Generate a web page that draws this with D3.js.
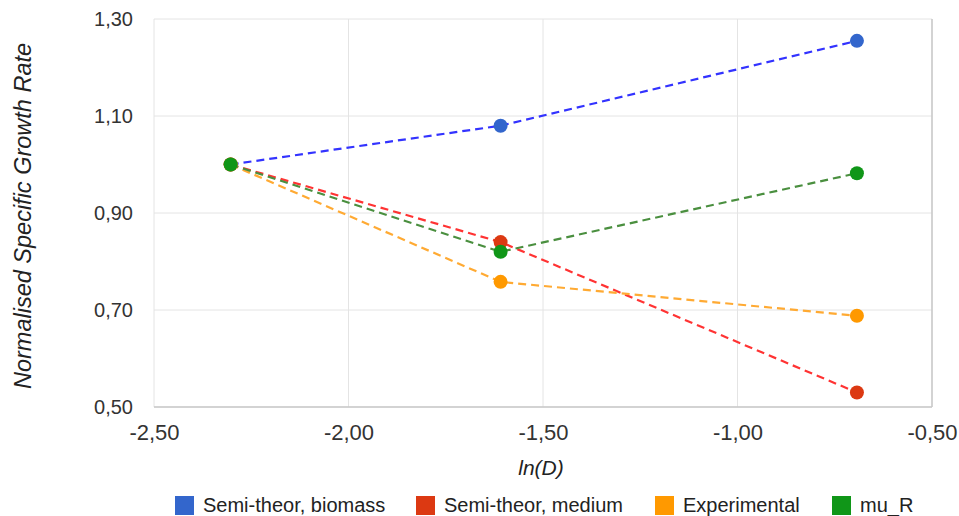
<!DOCTYPE html>
<html>
<head>
<meta charset="utf-8">
<script src="https://cdn.jsdelivr.net/npm/d3@7"></script>
<style>
  body { margin: 0; background: #fff; }
  text { font-family: "Liberation Sans", Arial, sans-serif; }
</style>
</head>
<body>
<svg id="chart" width="959" height="516"></svg>
<script>
// ln(D) values
const xValues = [-2.303, -1.609, -0.693];
const seriesNames = ["Semi-theor, biomass", "Semi-theor, medium", "Experimental", "mu_R"];
const biomass = [1.00, 1.08, 1.255];
const medium = [1.00, 0.84, 0.53];
const experimental = [1.00, 0.758, 0.688];
const muR = [1.00, 0.82, 0.982];
const xTicks = [-2.5, -2.0, -1.5, -1.0, -0.5];
const yTicks = [0.5, 0.7, 0.9, 1.1, 1.3];

const markerColors = ["#3366cc", "#dc3912", "#ff9900", "#109618"];
const lineColors = ["#3333ff", "#ff3333", "#ffaa33", "#4a8f3f"];

const margin = { top: 19, right: 27, bottom: 109, left: 154 },
    width = 959 - margin.left - margin.right,
    height = 516 - margin.top - margin.bottom;

const svg = d3.select("#chart");
const g = svg.append("g").attr("transform", `translate(${margin.left},${margin.top})`);

const x = d3.scaleLinear().domain([-2.5, -0.5]).range([0, width]);
const y = d3.scaleLinear().domain([0.5, 1.3]).range([height, 0]);

const fmt = d => d3.format(".2f")(d).replace(".", ",").replace("−", "-");

// gridlines
g.selectAll(".vgrid").data(xTicks).join("line").attr("class", "vgrid")
    .attr("x1", d => x(d)).attr("x2", d => x(d))
    .attr("y1", 0).attr("y2", height)
    .attr("stroke", "#e4e4e4").attr("stroke-width", 1);
g.selectAll(".hgrid").data(yTicks).join("line").attr("class", "hgrid")
    .attr("x1", 0).attr("x2", width)
    .attr("y1", d => y(d)).attr("y2", d => y(d))
    .attr("stroke", "#e4e4e4").attr("stroke-width", 1);

// frame: right and bottom darker
g.append("line").attr("x1", width).attr("x2", width).attr("y1", 0).attr("y2", height)
    .attr("stroke", "#c8c8c8").attr("stroke-width", 1.5);
g.append("line").attr("x1", 0).attr("x2", width).attr("y1", height).attr("y2", height)
    .attr("stroke", "#c8c8c8").attr("stroke-width", 1.5);

// axes (labels only)
const xAxis = g.append("g").attr("transform", `translate(0,${height})`)
    .call(d3.axisBottom(x).tickValues(xTicks).tickSize(0).tickPadding(17).tickFormat(fmt));
const yAxis = g.append("g")
    .call(d3.axisLeft(y).tickValues(yTicks).tickSize(0).tickPadding(21).tickFormat(fmt));
[xAxis, yAxis].forEach(a => a.select(".domain").remove());
xAxis.selectAll("text").attr("fill", "#333").style("font-size", "22px");
yAxis.selectAll("text").attr("fill", "#333").style("font-size", "20px");

// series
const allSeries = [biomass, medium, experimental, muR];
const line = d3.line().x((d, i) => x(xValues[i])).y(d => y(d));

allSeries.forEach((s, k) => {
    g.append("path").datum(s)
        .attr("fill", "none")
        .attr("stroke", lineColors[k])
        .attr("stroke-width", 2.2)
        .attr("stroke-dasharray", "8,5")
        .attr("d", line);
});
allSeries.forEach((s, k) => {
    g.selectAll(".pt" + k).data(s).join("circle").attr("class", "pt" + k)
        .attr("cx", (d, i) => x(xValues[i]))
        .attr("cy", d => y(d))
        .attr("r", 7)
        .attr("fill", markerColors[k]);
});

// axis titles
svg.append("text")
    .attr("x", 541).attr("y", 475)
    .attr("text-anchor", "middle")
    .style("font-size", "21px").style("font-style", "italic").attr("fill", "#222")
    .text("ln(D)");
svg.append("text")
    .attr("transform", `translate(31,${margin.top + height / 2 + 3}) rotate(-90)`)
    .attr("text-anchor", "middle")
    .style("font-size", "23.5px").style("font-style", "italic").attr("fill", "#222")
    .text("Normalised Specific Growth Rate");

// legend
const legendX = [175, 416, 655, 832];
const legend = svg.selectAll(".legend").data(seriesNames).join("g").attr("class", "legend")
    .attr("transform", (d, i) => `translate(${legendX[i]},496)`);
legend.append("rect").attr("width", 19).attr("height", 19).attr("fill", (d, i) => markerColors[i]);
legend.append("text").attr("x", 28).attr("y", 16)
    .style("font-size", "20px").attr("fill", "#222").text(d => d);
</script>
</body>
</html>
